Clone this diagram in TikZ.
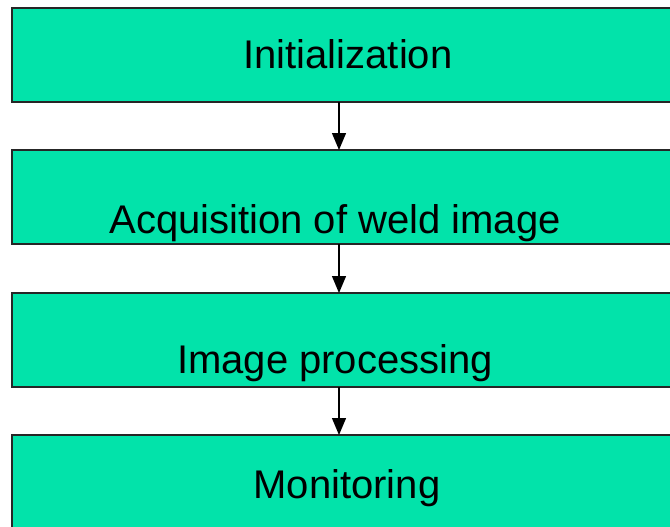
\documentclass[tikz,border=0pt]{standalone}
\usepackage{xcolor}
\usepackage{fontspec}
\setmainfont{Liberation Sans}
\usetikzlibrary{arrows.meta}
\definecolor{stepgreen}{RGB}{2,227,170}

\tikzset{
  stepbox/.style={draw=black!85, line width=1.8pt, fill=stepgreen, rectangle,
    minimum width=678pt, minimum height=94pt, inner sep=0pt, outer sep=0pt},
  steplabel/.style={anchor=base, inner sep=0pt, font=\fontsize{40}{48}\selectfont},
  steparrow/.style={line width=1.3pt, -{Triangle[length=17pt, width=14pt]}}
}

\begin{document}
\begin{tikzpicture}[x=1pt, y=-1pt]
\useasboundingbox (0,0) rectangle (670,527);
\clip (0,0) rectangle (670,527);

\coordinate (arrx) at (339,0);

\node[stepbox] (init) at (351,55) {};
\node[stepbox] (acq)  at (351,197) {};
\node[stepbox] (proc) at (351,340) {};
\node[stepbox] (mon)  at (351,482) {};

\node[steplabel] (initT) at (348,69)  {Initialization};
\node[steplabel] (acqT)  at (335,233) {Acquisition of weld image};
\node[steplabel] (procT) at (335,373) {Image processing};
\node[steplabel] (monT)  at (347,498) {Monitoring};

\draw[steparrow] (init.south -| arrx) -- (acq.north -| arrx);
\draw[steparrow] (acq.south -| arrx) -- (proc.north -| arrx);
\draw[steparrow] (proc.south -| arrx) -- (mon.north -| arrx);
\end{tikzpicture}
\end{document}
